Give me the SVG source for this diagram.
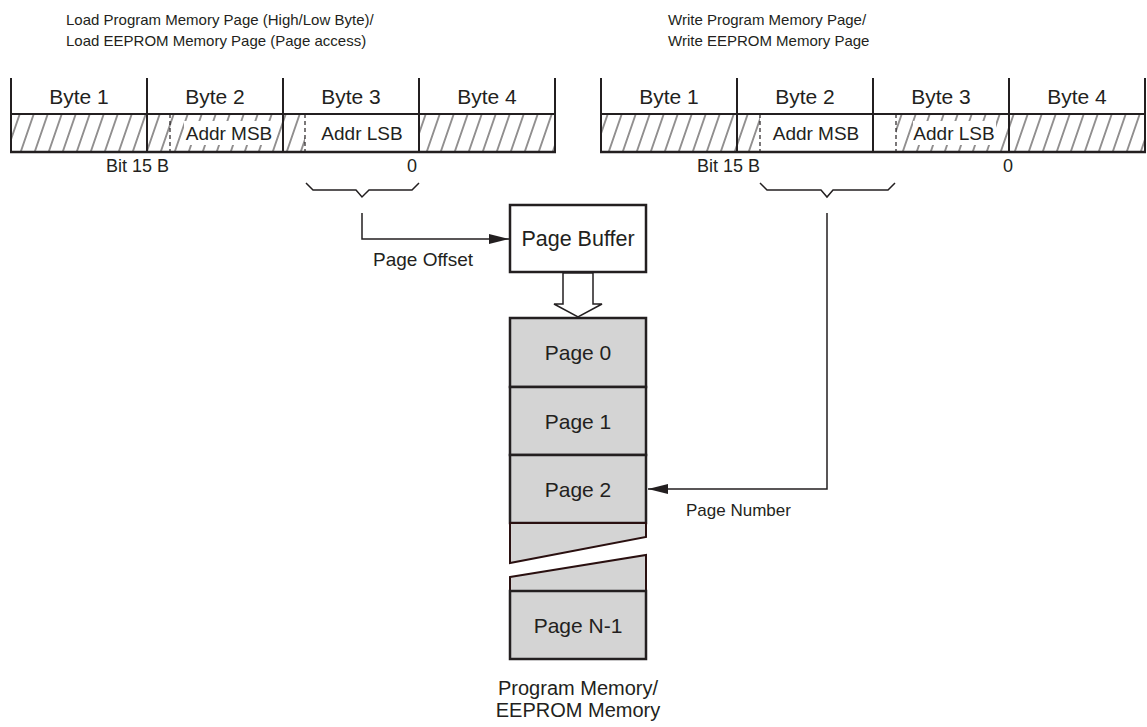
<svg xmlns="http://www.w3.org/2000/svg" width="1147" height="727" viewBox="0 0 1147 727">
<style>
text{font-family:"Liberation Sans",Arial,sans-serif;fill:#231f20}
.t{font-size:15px}
.b{font-size:21px;text-anchor:middle}
.a{font-size:19px;text-anchor:middle}
.p{font-size:21px;text-anchor:middle}
.s{font-size:18px}
.ln{stroke:#231f20;fill:none}
.tb{stroke:#231f20;stroke-width:2;fill:none}
.dash{stroke:#231f20;stroke-width:1.2;stroke-dasharray:4 3;fill:none}
.pg{fill:#d4d4d4;stroke:#231f20;stroke-width:2.5}
.brk{fill:#d4d4d4;stroke:#2a1010;stroke-width:2}
</style>
<defs>
<pattern id="hatch" patternUnits="userSpaceOnUse" width="14" height="38" patternTransform="skewX(-19)">
<line x1="3" y1="-2" x2="3" y2="40" stroke="#231f20" stroke-width="1"/>
</pattern>
<marker id="arr" viewBox="0 0 20 10" refX="20" refY="5" markerWidth="20" markerHeight="10" markerUnits="userSpaceOnUse" orient="auto">
<path d="M0,0 L20,5 L0,10 z" fill="#231f20"/>
</marker>
</defs>

<g id="title-left">
<text class="t" x="66" y="25">Load Program Memory Page (High/Low Byte)/</text>
<text class="t" x="66" y="46">Load EEPROM Memory Page (Page access)</text>
</g>
<g id="title-right">
<text class="t" x="668" y="25">Write Program Memory Page/</text>
<text class="t" x="668" y="46">Write EEPROM Memory Page</text>
</g>

<g id="table-left">
<rect x="11" y="114" width="136" height="38" fill="url(#hatch)"/>
<rect x="147" y="114" width="158" height="38" fill="url(#hatch)"/>
<rect x="419" y="114" width="136" height="38" fill="url(#hatch)"/>
<rect x="184" y="121" width="90" height="24" fill="#fff"/>
<line class="dash" x1="170" y1="114" x2="170" y2="152"/>
<line class="dash" x1="305" y1="114" x2="305" y2="152"/>
<path class="tb" d="M11,78V152M147,78V152M283,78V152M419,78V152M555,78V152M11,114H555"/>
<line class="ln" x1="10" y1="152" x2="556" y2="152" stroke-width="2.5"/>
<text class="b" x="79" y="104">Byte 1</text>
<text class="b" x="215" y="104">Byte 2</text>
<text class="b" x="351" y="104">Byte 3</text>
<text class="b" x="487" y="104">Byte 4</text>
<text class="a" x="229" y="140">Addr MSB</text>
<text class="a" x="362" y="140">Addr LSB</text>
</g>

<g id="table-right">
<rect x="601" y="114" width="159" height="38" fill="url(#hatch)"/>
<rect x="896" y="114" width="249" height="38" fill="url(#hatch)"/>
<rect x="913" y="121" width="83" height="24" fill="#fff"/>
<line class="dash" x1="760" y1="114" x2="760" y2="152"/>
<line class="dash" x1="896" y1="114" x2="896" y2="152"/>
<path class="tb" d="M601,78V152M737,78V152M873,78V152M1009,78V152M1145,78V152M601,114H1145"/>
<line class="ln" x1="600" y1="152" x2="1146" y2="152" stroke-width="2.5"/>
<text class="b" x="669" y="104">Byte 1</text>
<text class="b" x="805" y="104">Byte 2</text>
<text class="b" x="941" y="104">Byte 3</text>
<text class="b" x="1077" y="104">Byte 4</text>
<text class="a" x="816" y="140">Addr MSB</text>
<text class="a" x="954" y="140">Addr LSB</text>
</g>

<g id="bits-left">
<text class="s" x="106" y="172">Bit 15 B</text>
<text class="s" x="412" y="172" text-anchor="middle">0</text>
</g>
<g id="bits-right">
<text class="s" x="697" y="172">Bit 15 B</text>
<text class="s" x="1008" y="172" text-anchor="middle">0</text>
</g>

<g id="brace-left">
<path class="ln" stroke-width="1.5" d="M306,183L313,190H356L362,197L369,190H412L419,183"/>
</g>
<g id="brace-right">
<path class="ln" stroke-width="1.5" d="M760,183L767,190H821L827,197L833,190H888L895,183"/>
</g>

<g id="page-buffer">
<rect x="510" y="205" width="136" height="67" fill="#fff" stroke="#231f20" stroke-width="2.5"/>
<text class="p" x="578" y="246" style="font-size:21.5px">Page Buffer</text>
</g>

<g id="memory">
<rect class="pg" x="510" y="318" width="136" height="69"/>
<text class="p" x="578" y="360">Page 0</text>
<rect class="pg" x="510" y="387" width="136" height="68"/>
<text class="p" x="578" y="429">Page 1</text>
<rect class="pg" x="510" y="455" width="136" height="68"/>
<text class="p" x="578" y="497">Page 2</text>
<polygon class="brk" points="510,523 646,523 646,537 510,563"/>
<polygon class="brk" points="510,577 646,555 646,591 510,591"/>
<rect class="pg" x="510" y="591" width="136" height="68"/>
<text class="p" x="578" y="633">Page N-1</text>
</g>

<g id="labels">
<text class="s" x="373" y="266" style="font-size:19px">Page Offset</text>
<text class="s" x="686" y="516" style="font-size:17px">Page Number</text>
<text class="p" x="578" y="695" style="font-size:20px">Program Memory/</text>
<text class="p" x="578" y="717" style="font-size:20px">EEPROM Memory</text>
</g>

<g id="connectors">
<path class="ln" stroke-width="1.5" d="M362,213V239H509" marker-end="url(#arr)"/>
<path class="ln" stroke-width="1.5" d="M827,213V489H648" marker-end="url(#arr)"/>
<polygon points="563,273 563,304 554,304 578,317 602,304 593,304 593,273" fill="#fff" stroke="#231f20" stroke-width="1.5"/>
</g>
</svg>
